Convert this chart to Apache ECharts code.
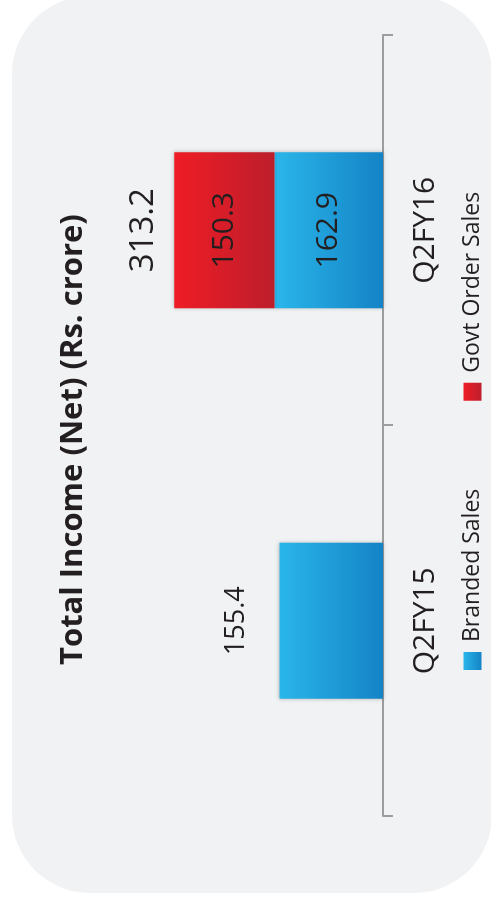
<!DOCTYPE html>
<html>
<head>
<meta charset="utf-8">
<script src="https://cdn.jsdelivr.net/npm/echarts@6/dist/echarts.min.js"></script>
<style>
html, body { margin: 0; padding: 0; background: #fff; overflow: hidden; width: 491px; height: 906px; }
#card { position: absolute; left: 12px; top: -4px; width: 480px; height: 897px; border-radius: 78px; background: #f1f2f4; }
/* chart is laid out upright (906 x 491) and turned a quarter left, like the slide */
#chart { position: absolute; left: 0; top: 0; width: 906px; height: 491px; transform-origin: 0 0; transform: translate(0, 906px) rotate(-90deg); }
</style>
</head>
<body>
<div id="card"></div>
<div id="chart"></div>
<script>
var quarters = ['Q2FY15', 'Q2FY16'];
var brandedSales = [155.4, 162.9];
var govtOrderSales = ['-', 150.3];
var totalIncome = [155.4, 313.2];

var font = '"Open Sans", "Noto Sans", sans-serif';
var ink = '#231f20';

function grad(top, bottom) {
    return new echarts.graphic.LinearGradient(0, 0, 0, 1, [
        { offset: 0, color: top },
        { offset: 1, color: bottom }
    ]);
}

var blue = grad('#2ab6ea', '#1483c6');
var red = grad('#ef1c25', '#bd1e2c');

var myChart = echarts.init(document.getElementById('chart'));

var option = {
    backgroundColor: 'transparent',
    animation: false,
    title: {
        text: 'Total Income (Net) (Rs. crore)',
        left: 241,
        top: 58,
        padding: 0,
        textStyle: { fontFamily: font, fontSize: 31, fontWeight: 'bold', color: ink }
    },
    legend: {
        data: ['Branded Sales', 'Govt Order Sales'],
        left: 231,
        top: 456,
        icon: 'rect',
        itemWidth: 18,
        itemHeight: 18,
        itemGap: 88,
        textStyle: { fontFamily: font, fontSize: 23, color: ink, padding: [0, 0, 0, 5] }
    },
    grid: { left: 90, right: 35, top: 23, bottom: 108 },
    xAxis: {
        type: 'category',
        data: quarters,
        axisLine: { lineStyle: { color: '#9d9d9d', width: 2 } },
        axisTick: { show: true, length: 10, lineStyle: { color: '#9d9d9d', width: 2 } },
        axisLabel: { margin: 27, fontFamily: font, fontSize: 30, color: ink }
    },
    yAxis: {
        type: 'value',
        min: 0,
        max: 540,
        show: false,
        splitLine: { show: false }
    },
    series: [
        {
            name: 'Branded Sales',
            type: 'bar',
            stack: 'income',
            barWidth: 156,
            itemStyle: { color: blue, shadowBlur: 4, shadowColor: 'rgba(0,0,0,0.25)' },
            label: { show: true, position: 'inside', fontFamily: font, fontSize: 30, color: ink },
            data: brandedSales.map(function (v, i) {
                return { value: v, label: { show: govtOrderSales[i] !== '-' } };
            })
        },
        {
            name: 'Govt Order Sales',
            type: 'bar',
            stack: 'income',
            barWidth: 156,
            itemStyle: { color: red, shadowBlur: 4, shadowColor: 'rgba(0,0,0,0.25)' },
            label: { show: true, position: 'inside', fontFamily: font, fontSize: 30, color: ink },
            data: govtOrderSales
        },
        {
            // totals written above each stack
            name: 'Total',
            type: 'bar',
            stack: 'income',
            barWidth: 156,
            itemStyle: { color: 'transparent' },
            label: {
                show: true,
                position: 'top',
                fontFamily: font,
                color: ink,
                formatter: function (p) { return totalIncome[p.dataIndex].toFixed(1); }
            },
            data: totalIncome.map(function (t, i) {
                return { value: 0, label: { fontSize: i === 0 ? 27 : 33, distance: i === 0 ? 30 : 14 } };
            })
        }
    ]
};

myChart.setOption(option);
</script>
</body>
</html>
